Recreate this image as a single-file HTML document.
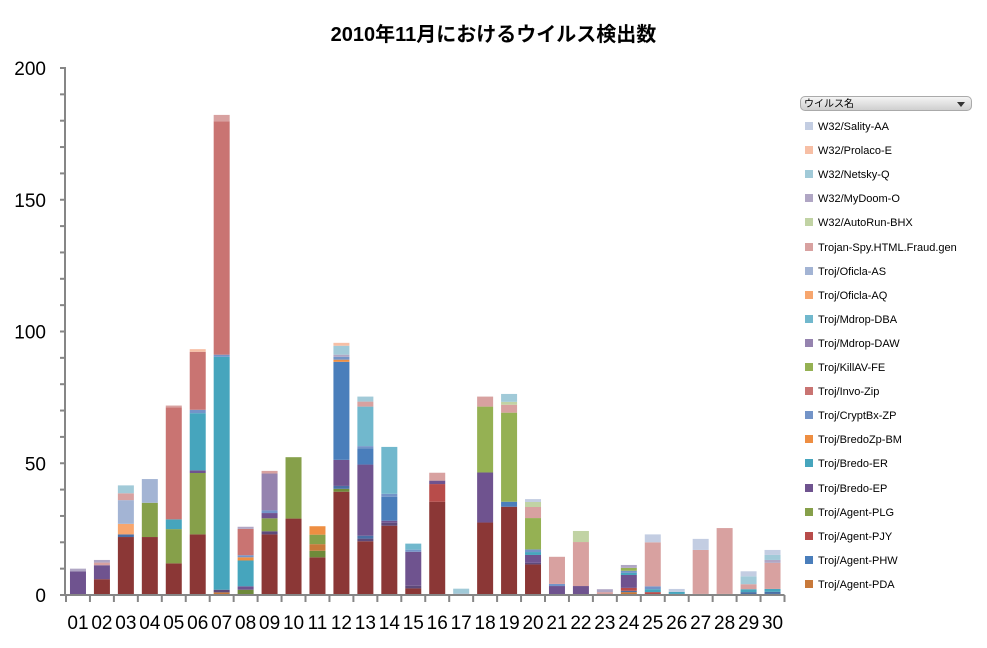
<!DOCTYPE html>
<html><head><meta charset="utf-8">
<style>
body{margin:0;background:#fff;}
#wrap{position:relative;width:987px;height:648px;overflow:hidden;font-family:"Liberation Sans","Noto Sans CJK JP",sans-serif;}
.title{position:absolute;left:0;width:987px;top:18px;text-align:center;font-weight:bold;font-size:20px;color:#000;}
.legend-box{position:absolute;left:800px;top:96px;width:172px;height:15px;border:1px solid #aaa;border-radius:5px;background:linear-gradient(#f4f4f4,#cfcfcf);font-size:10px;line-height:15px;padding-left:3px;box-sizing:border-box;}
.legend-box .arr{position:absolute;right:6px;top:5px;width:0;height:0;border-left:4px solid transparent;border-right:4px solid transparent;border-top:5px solid #333;}
.le{position:absolute;left:805px;font-size:11px;color:#000;height:14px;line-height:14px;white-space:nowrap;}
.le span{display:inline-block;width:8px;height:8px;margin-right:5px;vertical-align:-0px;}
</style></head>
<body>
<div id="wrap">
<div class="title">2010年11月におけるウイルス検出数</div>
<svg id="plot" width="987" height="648" style="position:absolute;left:0;top:0"></svg>
<div class="legend-box">ウイルス名<div class="arr"></div></div>
<div id="legend"></div>
</div>
<script>
const days=["01","02","03","04","05","06","07","08","09","10","11","12","13","14","15","16","17","18","19","20","21","22","23","24","25","26","27","28","29","30"];
const yTicks=[0,50,100,150,200];
const seriesNames=["Mal/Base","Mal/Olive","Troj/Agent-PDA","Mal/DarkPurple","Mal/BlueLow","Troj/Agent-PJY","Troj/Agent-PLG","Troj/Bredo-EP","Troj/Agent-PHW","Troj/Bredo-ER","Troj/BredoZp-BM","Troj/CryptBx-ZP","Troj/Invo-Zip","Troj/KillAV-FE","Troj/Mdrop-DAW","Troj/Mdrop-DBA","Troj/Oficla-AQ","Troj/Oficla-AS","Trojan-Spy.HTML.Fraud.gen","W32/AutoRun-BHX","W32/MyDoom-O","W32/Netsky-Q","W32/Prolaco-E","W32/Sality-AA"];
const seriesColors=["#8B3736","#6E8A3A","#C8793A","#5E4A7A","#4A6FA5","#B84C4A","#86A04A","#6F538F","#4A7EBB","#46A5BD","#EE8E42","#7394C8","#C97472","#95B153","#9583AF","#71B8CD","#F7A66E","#A3B4D4","#D8A1A0","#C1D3A4","#B0A6C4","#A1CAD8","#F7BFA5","#C3CDE2"];
const vBase=[0,6,22,22,12,23,0,0,23,29,14.3,39.2,20.4,26.3,2.5,35.4,0,27.5,33.5,11.6,0,0,0,0,0,0,0,0,0,0.4];
const vOlive=[0,0,0,0,0,0,0,2,0,0,2.5,1.1,0,0,0,0,0,0,0,0,0,0,0,0,0,0,0,0,0,0];
const vPDA=[0,0,0,0,0,0,1,0,0,0,2.5,0,0,0,0,0,0,0,0,0,0,0,0,1.1,0,0,0,0,0,0];
const vDkPurple=[0,0,0,0,0,0,1,0,1.2,0,0,0,1,1.1,1,0,0,0,0,0.6,0,0,0,0,0,0,0,0,0,0];
const vBlueLow=[0,0,1,0,0,0,0,0,0,0,0,1.1,1.1,0,0,0,0,0,0,0,0,0,0,0.5,0,0.4,0,0.4,1.1,0.8];
const vPJY=[0,0,0,0,0,0,0,0,0,0,0,0,0,0,0,6.7,0,0,0,0,0,0,0,1.1,1.1,0,0,0,0,0];
const vPLG=[0,0,0,13,13,23.3,0,0,4.9,23.3,3.6,0,0,0,0,0,0,0,0,0,0,0,0,0,0,0,0,0,0,0];
const vBredoEP=[9,5.3,0,0,0,1,0,1.3,2,0,0,9.9,27,0.8,12.9,1.3,0,19,0,3,3.4,3.4,0,4.9,0,0,0,0,0,0];
const vPHW=[0,0,0,0,0,0,0,0,0,0,0,37.2,6.2,9.1,0,0,0,0,1.9,0,0,0,0,0,0,0,0,0,0,0];
const vBredoER=[0,0,0,0,3.7,21.7,88.4,9.8,0,0,0,0,0,0,0,0,0,0,0,1.1,0,0,0,0.8,1.1,0.8,0.4,0,1.1,1.1];
const vBredoZp=[0,0,0,0,0,0,0,1.2,0,0,3.2,0.8,0,0,0,0,0,0,0,0,0,0,0,0,0,0,0,0,0,0];
const vCryptBx=[0,0,0,0,0,1.3,0.8,0.8,1,0,0,1.1,0.8,1.1,0.8,0,0,0,0,1,0.8,0,0,0.8,1.1,0,0,0,0,0];
const vInvo=[0,0,0,0,42.5,22,88.6,10,0,0,0,0,0,0,0,0,0,0,0,0,0,0,0,0,0,0,0,0,0,0];
const vKillAV=[0,0,0,0,0,0,0,0,0,0,0,0,0,0,0,0,0,25,33.8,11.9,0,0,0,1.1,0,0,0,0,0,0];
const vMdropDAW=[0,0,0,0,0,0,0,0,14,0,0,0,0,0,0,0,0,0,0,0,0,0,0,0,0,0,0,0,0,0];
const vMdropDBA=[0,0,0,0,0,0,0,0,0,0,0,0,15,17.8,2.3,0,0,0,0,0,0,0,0,0,0,0,0,0,0,0];
const vOficlaAQ=[0,0,4,0,0,0,0,0,0,0,0,0,0,0,0,0,0,0,0,0,0,0,0,0,0,0,0,0,0,0];
const vOficlaAS=[0,0,9,9,0,0,0,0,0,0,0,0,0,0,0,0,0,0,0,0,0,0,0,0,0,0,0,0,0,0];
const vSpy=[0,1,2.6,0,0.7,0,2.4,0,1,0,0,0,1.9,0,0,3,0,3.8,3,4.2,10.3,16.7,1.1,0,16.7,0,16.7,25,1.9,9.9];
const vAutoRun=[0,0,0,0,0,0,0,0,0,0,0,0,0,0,0,0,0,0,1.1,1.9,0,4.2,0,0,0,0,0,0,0,0];
const vMyDoom=[1,1,0,0,0,0,0,0.8,0,0,0,0.8,0,0,0,0,0.5,0,0,0,0,0,1.1,1.1,0,0,0,0,0,1.1];
const vNetsky=[0,0,3,0,0,0,0,0,0,0,0,3.4,1.9,0,0,0,1.9,0,3,0,0,0,0,0,0,0,0,0,3,1.9];
const vProlaco=[0,0,0,0,0,1,0,0,0,0,0,1.1,0,0,0,0,0,0,0,0,0,0,0,0,0,0,0,0,0,0];
const vSality=[0,0,0,0,0,0,0,0,0,0,0,0,0,0,0,0,0,0,0,1.1,0,0,0,0,3,1.1,4.2,0,1.9,1.9];
const seriesValues=[vBase,vOlive,vPDA,vDkPurple,vBlueLow,vPJY,vPLG,vBredoEP,vPHW,vBredoER,vBredoZp,vCryptBx,vInvo,vKillAV,vMdropDAW,vMdropDBA,vOficlaAQ,vOficlaAS,vSpy,vAutoRun,vMyDoom,vNetsky,vProlaco,vSality];
const legendNames=["W32/Sality-AA","W32/Prolaco-E","W32/Netsky-Q","W32/MyDoom-O","W32/AutoRun-BHX","Trojan-Spy.HTML.Fraud.gen","Troj/Oficla-AS","Troj/Oficla-AQ","Troj/Mdrop-DBA","Troj/Mdrop-DAW","Troj/KillAV-FE","Troj/Invo-Zip","Troj/CryptBx-ZP","Troj/BredoZp-BM","Troj/Bredo-ER","Troj/Bredo-EP","Troj/Agent-PLG","Troj/Agent-PJY","Troj/Agent-PHW","Troj/Agent-PDA"];

const NS="http://www.w3.org/2000/svg";
const svg=document.getElementById('plot');
const X0=66,Y0=595,Ytop=68,YMAX=200,CW=23.95,BW=16;
const y=v=>Y0-(v/YMAX)*(Y0-Ytop);
const xc=i=>X0+CW*(i+0.5);
function mk(t,a){const e=document.createElementNS(NS,t);for(const k in a)e.setAttribute(k,a[k]);svg.appendChild(e);return e;}
// bars
days.forEach((d,i)=>{
  let acc=0;
  seriesValues.forEach((arr,s)=>{
    const v=arr[i]; if(!v) return;
    const r=mk('rect',{x:xc(i)-BW/2,y:y(acc+v),width:BW,height:y(acc)-y(acc+v),fill:seriesColors[s]});
    
    
    acc+=v;
  });
});
// y axis
const ya=mk('line',{x1:X0-1,y1:Ytop,x2:X0-1,y2:Y0,stroke:'#868686','stroke-width':2});


for(let v=0;v<=YMAX;v+=10){
  const t=mk('line',{x1:X0-6,y1:y(v),x2:X0,y2:y(v),stroke:'#868686','stroke-width':2});
  
  
}
yTicks.forEach(v=>{
  const t=mk('text',{x:46,y:y(v)+7,'text-anchor':'end','font-size':19,'font-family':'Liberation Sans, sans-serif',fill:'#000'});
  t.textContent=v;
  
  
});
// x axis
const xa=mk('line',{x1:X0-6,y1:Y0,x2:X0+CW*days.length,y2:Y0,stroke:'#868686','stroke-width':2});


for(let i=0;i<=days.length;i++){
  const t=mk('line',{x1:X0+CW*i,y1:Y0,x2:X0+CW*i,y2:Y0+7,stroke:'#868686','stroke-width':2});
  
  
}
days.forEach((d,i)=>{
  const t=mk('text',{x:xc(i),y:629,'text-anchor':'middle','font-size':19,'font-family':'Liberation Sans, sans-serif',fill:'#000'});
  t.textContent=d;
  
  
});
// legend
const lg=document.getElementById('legend');
legendNames.forEach((n,i)=>{
  const e=document.createElement('div');
  e.className='le';
  e.style.top=(120+i*24.1)+'px';
  const c=seriesColors[seriesNames.indexOf(n)];
  e.innerHTML='<span style="background:'+c+'"></span>'+n;
  
  
  lg.appendChild(e);
});
</script>
</body></html>
